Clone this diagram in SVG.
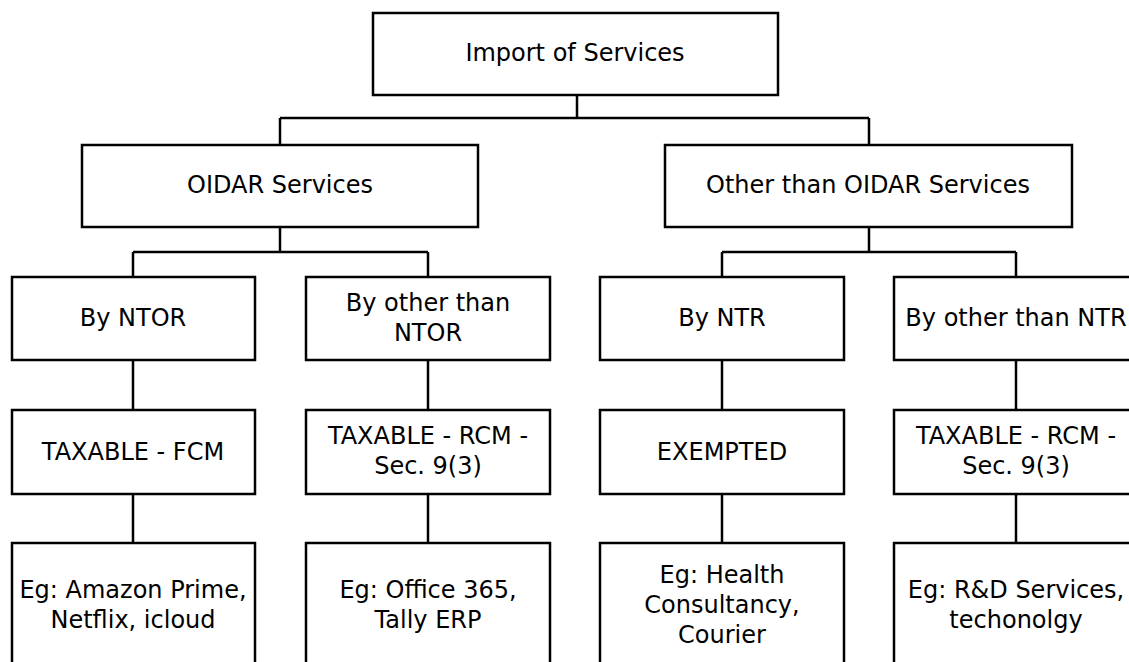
<svg xmlns="http://www.w3.org/2000/svg" width="1129" height="662" viewBox="0 0 1129 662">
<style>
.box{fill:#fff;stroke:#000;stroke-width:2.5}
.ln{fill:none;stroke:#000;stroke-width:2.5}
text{font-family:"DejaVu Sans","Noto Sans",sans-serif;font-size:24px;fill:#000;text-anchor:middle}
</style>
<rect width="1129" height="662" fill="#fff"/>
<g id="connectors">
<path class="ln" d="M577 95V118M280 118H869M280 118V145M869 118V145"/>
<path class="ln" d="M280 227V252M133 252H428M133 252V277M428 252V277"/>
<path class="ln" d="M869 227V252M722 252H1016M722 252V277M1016 252V277"/>
<path class="ln" d="M133 360V410M428 360V410M722 360V410M1016 360V410"/>
<path class="ln" d="M133 494V543M428 494V543M722 494V543M1016 494V543"/>
</g>
<g id="root"><rect class="box" x="373" y="13" width="405" height="82"/><text x="575" y="61">Import of Services</text></g>
<g id="oidar"><rect class="box" x="82" y="145" width="396" height="82"/><text x="280" y="193">OIDAR Services</text></g>
<g id="other"><rect class="box" x="665" y="145" width="407" height="82"/><text x="868" y="193">Other than OIDAR Services</text></g>
<g id="ntor"><rect class="box" x="12" y="277" width="243" height="83"/><text x="133" y="326">By NTOR</text></g>
<g id="non-ntor"><rect class="box" x="306" y="277" width="244" height="83"/><text x="428" y="311">By other than</text><text x="428" y="341">NTOR</text></g>
<g id="ntr"><rect class="box" x="600" y="277" width="244" height="83"/><text x="722" y="326">By NTR</text></g>
<g id="non-ntr"><rect class="box" x="894" y="277" width="244" height="83"/><text x="1016" y="326">By other than NTR</text></g>
<g id="fcm"><rect class="box" x="12" y="410" width="243" height="84"/><text x="133" y="460">TAXABLE - FCM</text></g>
<g id="rcm1"><rect class="box" x="306" y="410" width="244" height="84"/><text x="428" y="444">TAXABLE - RCM -</text><text x="428" y="474">Sec. 9(3)</text></g>
<g id="exempted"><rect class="box" x="600" y="410" width="244" height="84"/><text x="722" y="460">EXEMPTED</text></g>
<g id="rcm2"><rect class="box" x="894" y="410" width="244" height="84"/><text x="1016" y="444">TAXABLE - RCM -</text><text x="1016" y="474">Sec. 9(3)</text></g>
<g id="eg1"><rect class="box" x="12" y="543" width="243" height="130"/><text x="133" y="598">Eg: Amazon Prime,</text><text x="133" y="628">Netflix, icloud</text></g>
<g id="eg2"><rect class="box" x="306" y="543" width="244" height="130"/><text x="428" y="598">Eg: Office 365,</text><text x="428" y="628">Tally ERP</text></g>
<g id="eg3"><rect class="box" x="600" y="543" width="244" height="130"/><text x="722" y="583">Eg: Health</text><text x="722" y="613">Consultancy,</text><text x="722" y="643">Courier</text></g>
<g id="eg4"><rect class="box" x="894" y="543" width="244" height="130"/><text x="1016" y="598">Eg: R&amp;D Services,</text><text x="1016" y="628">techonolgy</text></g>
</svg>
